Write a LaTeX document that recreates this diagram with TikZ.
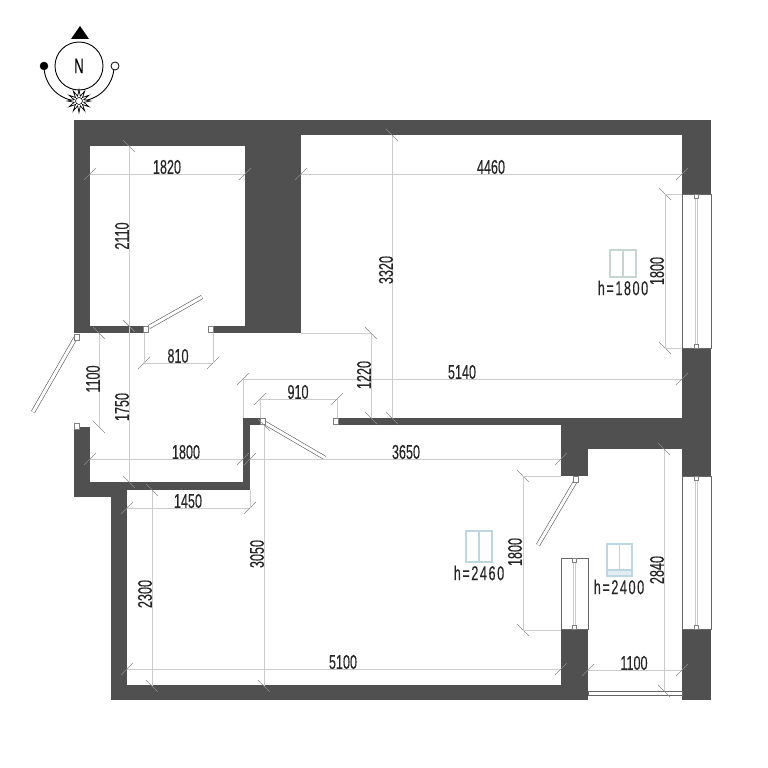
\documentclass[tikz,border=0pt]{standalone}
\usepackage{tikz}
\usepackage{xcolor}
\usepackage{fontspec}
\setmainfont[FakeStretch=0.63,FakeBold=0.25]{Liberation Sans}
\newfontfamily\spacedfont[FakeStretch=0.63,FakeBold=0.25,LetterSpace=8]{Liberation Sans}
\usetikzlibrary{shapes.geometric}
\definecolor{wallgray}{HTML}{505050}
\definecolor{dimgray}{HTML}{CCCCCC}
\definecolor{iconblue}{HTML}{BCD6E4}
\definecolor{icongreen}{HTML}{C8D6D2}
\tikzset{
	wall/.style={fill=wallgray},
	dimline/.style={draw=dimgray,line width=.8pt},
	dimtick/.style={draw=black!45,line width=.6pt},
	dimtext/.style={inner sep=0pt,text=black!85,font=\fontsize{20}{20}\selectfont},
	vdimtext/.style={dimtext,rotate=90},
	heighttext/.style={inner sep=0pt,text=black!85,font=\spacedfont\fontsize{20}{20}\selectfont},
	doorleaf/.style={draw=black!65,double=white,double distance=3pt,line width=.6pt},
	hingeblock/.style={draw=gray,fill=white,line width=.6pt},
	winframe/.style={draw=black!60,fill=white,line width=.7pt},
	winpane/.style={draw=black!20,line width=.7pt}
}
\begin{document}
\begin{tikzpicture}[x=1pt,y=-1pt]
	\useasboundingbox[fill=white] (0,0) rectangle (768,768);
	% compass
	\draw[line width=.9pt] (44,66) arc[start angle=180,end angle=0,x radius=35,y radius=35];
	\node[circle,draw,line width=.9pt,minimum size=48pt,inner sep=0pt,font=\fontsize{21}{21}\selectfont] (compass) at (79,66) {N};
	\fill (71,39) -- (80,26) -- (89,39) -- cycle;
	\node[circle,fill=black,draw,minimum size=8pt,inner sep=0pt] (sunset) at (44,66) {};
	\node[circle,fill=white,draw,line width=.8pt,minimum size=8pt,inner sep=0pt] (sunrise) at (115,66) {};
	\node[star,star points=12,star point ratio=2.3,draw,fill=white,line width=.7pt,minimum size=23pt,inner sep=0pt] (sun) at (79,101) {};
	\node[circle,draw,fill=white,line width=.6pt,minimum size=7pt,inner sep=0pt] (suncore) at (79,101) {};

	% walls
	\fill[wall] (74,120) rectangle (711,135);
	\fill[wall] (74,120) rectangle (90,333);
	\fill[wall] (90,135) rectangle (301,146);
	\fill[wall] (245,135) rectangle (301,333);
	\fill[wall] (90,326) rectangle (143,333);
	\fill[wall] (213,326) rectangle (245,333);
	\fill[wall] (682,120) rectangle (711,194);
	\fill[wall] (682,348) rectangle (711,476);
	\fill[wall] (682,629) rectangle (711,700);
	\fill[wall] (337,418) rectangle (682,425);
	\fill[wall] (561,425) rectangle (682,449);
	\fill[wall] (561,449) rectangle (588,476);
	\fill[wall] (561,629) rectangle (588,700);
	\fill[wall] (111,685) rectangle (588,700);
	\fill[wall] (111,490) rectangle (127,700);
	\fill[wall] (74,427) rectangle (90,497);
	\fill[wall] (74,482) rectangle (250,490);
	\fill[wall] (74,490) rectangle (111,497);
	\fill[wall] (243,418) rectangle (250,490);
	\fill[wall] (243,418) rectangle (260,425);

	% windows
	\foreach \xa/\xb/\ya/\yb in {682/711/194/348,682/711/476/629,561/588/558/629}
	{
		\draw[winframe] (\xa,\ya) rectangle (\xb,\yb);
		\draw[winpane,double=white,double distance=1.5pt] ({(\xa+\xb)/2},\ya) -- ({(\xa+\xb)/2},\yb);
		\draw[hingeblock] ({(\xa+\xb)/2-2},\ya) rectangle ({(\xa+\xb)/2+2},{\ya+4});
		\draw[hingeblock] ({(\xa+\xb)/2-2},{\yb-4}) rectangle ({(\xa+\xb)/2+2},\yb);
	}
	\draw[winframe] (588,691) rectangle (682,695);

	% doors
	\draw[doorleaf] (149,327) -- (202,297);
	\draw[doorleaf] (76,337) -- (33,412);
	\draw[doorleaf] (265,423) -- (325,458);
	\draw[doorleaf] (575,482) -- (538,545);
	\foreach \xa/\ya in {143/326,208/326,74/334,74/423,260/418,333/418,573/476}
		\draw[hingeblock] (\xa,\ya) rectangle ({\xa+5},{\ya+6});

	% dimension lines
	\foreach \xa/\xb/\yc in {90/245/174,301/682/174,144/213/363,260/337/399,243/682/379,90/243/459,250/561/459,127/250/508,127/561/669,588/682/670}
	{
		\draw[dimline] (\xa,\yc) -- (\xb,\yc);
		\draw[dimtick] ({\xa-6},{\yc+6}) -- ({\xa+6},{\yc-6});
		\draw[dimtick] ({\xb-6},{\yc+6}) -- ({\xb+6},{\yc-6});
	}
	\foreach \xc/\ya/\yb in {129/146/326,99/333/427,129/326/482,371/333/418,392/135/418,264/425/686,152/490/686,523/476/630,664/449/691,665/194/348}
	{
		\draw[dimline] (\xc,\ya) -- (\xc,\yb);
		\draw[dimtick] ({\xc-6},{\ya-6}) -- ({\xc+6},{\ya+6});
		\draw[dimtick] ({\xc-6},{\yb-6}) -- ({\xc+6},{\yb+6});
	}
	% extension lines
	\draw[dimline] (144,333) -- (144,363);
	\draw[dimline] (213,333) -- (213,363);
	\draw[dimline] (260,399) -- (260,418);
	\draw[dimline] (337,399) -- (337,418);
	\draw[dimline] (243,379) -- (243,418);
	\draw[dimline] (250,490) -- (250,508);
	\draw[dimline] (301,333) -- (371,333);
	\draw[dimline] (523,476) -- (561,476);
	\draw[dimline] (523,630) -- (561,630);
	\draw[dimline] (665,194) -- (682,194);
	\draw[dimline] (665,348) -- (682,348);

	% window marks
	\foreach \xc/\yc/\xd/\yd/\mark in {610/250/636/277/icongreen,466/531/492/562/iconblue,607/544/632/570/iconblue}
	{
		\draw[\mark,line width=1.1pt] (\xc,\yc) rectangle (\xd,\yd);
		\draw[\mark,line width=1.1pt] ({(\xc+\xd)/2},\yc) -- ({(\xc+\xd)/2},\yd);
	}
	\draw[iconblue,fill=iconblue!45,line width=1.1pt] (607,570) rectangle (632,576);

	% labels
	\node[dimtext] (l1820) at (167,167) {1820};
	\node[dimtext] (l4460) at (491,167) {4460};
	\node[dimtext] (l810) at (178,356) {810};
	\node[dimtext] (l910) at (298,392) {910};
	\node[dimtext] (l5140) at (462,372) {5140};
	\node[dimtext] (l1800a) at (186,452) {1800};
	\node[dimtext] (l3650) at (406,452) {3650};
	\node[dimtext] (l1450) at (188,501) {1450};
	\node[dimtext] (l5100) at (343,662) {5100};
	\node[dimtext] (l1100a) at (634,663) {1100};
	\node[vdimtext] (l2110) at (122,236) {2110};
	\node[vdimtext] (l3320) at (386,270) {3320};
	\node[vdimtext] (l1800b) at (657,271) {1800};
	\node[vdimtext] (l1220) at (364,375) {1220};
	\node[vdimtext] (l1100b) at (93,379) {1100};
	\node[vdimtext] (l1750) at (122,407) {1750};
	\node[vdimtext] (l3050) at (257,554) {3050};
	\node[vdimtext] (l2300) at (145,594) {2300};
	\node[vdimtext] (l1800c) at (515,552) {1800};
	\node[vdimtext] (l2840) at (657,570) {2840};
	\node[heighttext] (h1800) at (623,288) {h=1800};
	\node[heighttext] (h2460) at (479,573) {h=2460};
	\node[heighttext] (h2400) at (619,587) {h=2400};
\end{tikzpicture}
\end{document}
